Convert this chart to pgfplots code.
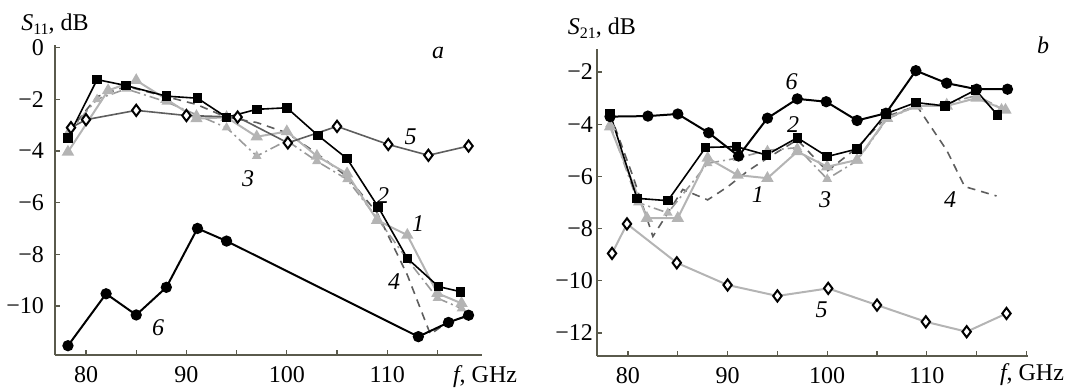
\documentclass[border=0pt]{standalone}
\usepackage{pgfplots}
\pgfplotsset{compat=1.18}
\usepackage{fontspec}
\setmainfont{Liberation Serif}
\definecolor{axc}{HTML}{5A5A4C}
\definecolor{lg}{HTML}{B4B4B4}
\definecolor{mg}{HTML}{9A9A9A}
\definecolor{dg}{HTML}{5E5E5E}
\tikzset{lbl/.style={font=\fontsize{12}{13}\selectfont\itshape},
  ttl/.style={font=\fontsize{12}{13}\selectfont}}
\pgfplotsset{
  base/.style={
    scale only axis, clip=false,
    axis x line*=bottom, axis y line*=left,
    axis line style={axc, line width=1pt, -},
    tick style={axc, line width=0.6pt},
    tick align=inside, major tick length=2.5pt,
    ticklabel style={font=\fontsize{12}{13}\selectfont},
    every axis plot/.append style={line width=0.8pt},
  },
  s1/.style={lg, line width=1pt, mark=triangle*, mark size=2.6pt, mark options={fill=lg, draw=lg, solid}},
  s2/.style={black, mark=square*, mark size=2pt, mark options={solid}},
  s3/.style={mg, dash pattern=on 5pt off 2pt on 1pt off 2pt, mark=triangle*, mark size=2pt, mark options={fill=lg, draw=lg, solid}},
  s4/.style={dg, dash pattern=on 4pt off 3pt},
  s5/.style={dg, mark=diamond*, mark size=2.8pt, mark options={fill=white, draw=black, line width=1pt, solid}},
  s6/.style={black, line width=1pt, mark=*, mark size=2.3pt, mark options={solid}},
}
\begin{document}
\begin{tikzpicture}
\useasboundingbox (0,0) rectangle (534pt,195.5pt);
% ---------- panel a ----------
\begin{axis}[base,
  at={(27.5pt,18pt)}, anchor=south west,
  width=213.5pt, height=155pt,
  xmin=76.91, xmax=119.44, ymin=-11.9, ymax=0.1,
  xtick={80,85,...,115}, xticklabels={80,,90,,100,,110,},
  ytick={-10,-8,-6,-4,-2,0}, yticklabels={−10,−8,−6,−4,−2,0},
  yticklabel style={xshift=-2pt}, xticklabel style={yshift=-2pt},
]
\addplot[s4] coordinates {(78.2,-3.3)(81.1,-1.9)(84,-1.5)(88,-1.9)(91,-2.2)(94,-2.7)(97,-2.9)(100,-3.3)(103,-4.1)(106,-5.0)(109,-6.4)(112,-8.8)(114.3,-11.1)(116.1,-10.6)(118.1,-10.4)};
\addplot[s3] coordinates {(78.2,-3.3)(81.1,-2.0)(84,-1.6)(88,-2.1)(91,-2.6)(94,-3.1)(97,-4.2)(100,-3.6)(103,-4.4)(106,-5.1)(109,-6.6)(112,-8.2)(115,-9.7)(117.4,-10.1)};
\addplot[s1] coordinates {(78.2,-4.04)(82.2,-1.66)(85,-1.27)(88,-2.0)(91,-2.75)(94,-2.7)(97,-3.45)(100,-3.25)(103,-4.2)(106,-4.88)(109,-6.68)(112,-7.26)(115,-9.51)(117.4,-9.9)};
\addplot[s2] coordinates {(78.2,-3.49)(81.1,-1.24)(84,-1.47)(88,-1.88)(91.1,-1.96)(94,-2.7)(97,-2.39)(100,-2.33)(103.1,-3.40)(106,-4.30)(109.1,-6.17)(112,-8.16)(115.1,-9.25)(117.3,-9.45)};
\addplot[s5] coordinates {(78.5,-3.10)(80,-2.79)(85,-2.43)(90,-2.63)(95.1,-2.69)(100.1,-3.69)(105,-3.05)(110.1,-3.75)(114.1,-4.17)(118.1,-3.81)};
\addplot[s6] coordinates {(78.2,-11.54)(82,-9.53)(85,-10.35)(88,-9.28)(91.1,-7.0)(94,-7.49)(113.1,-11.19)(116.1,-10.64)(118.1,-10.36)};
\node[lbl] at (axis cs:115.06,-0.19) {a};
\node[lbl] at (axis cs:112.34,-3.46) {5};
\node[lbl] at (axis cs:96.14,-5.06) {3};
\node[lbl] at (axis cs:109.58,-5.71) {2};
\node[lbl] at (axis cs:113.07,-6.80) {1};
\node[lbl] at (axis cs:110.68,-9.07) {4};
\node[lbl] at (axis cs:87.17,-10.85) {6};
\node[ttl] at (axis cs:119.74,-12.74) {\textit{f}, GHz};
\node[ttl] at (axis cs:76.91,0.89) {\textit{S}\raisebox{-0.35ex}{\fontsize{8}{9}\selectfont 11}, dB};
\end{axis}
% ---------- panel b ----------
\begin{axis}[base,
  at={(298.5pt,17.5pt)}, anchor=south west,
  width=215.5pt, height=153.5pt,
  xmin=76.89, xmax=120.16, ymin=-12.88, ymax=-1.12,
  xtick={80,85,...,120}, xticklabels={80,,90,,100,,110,,},
  ytick={-12,-10,-8,-6,-4,-2}, yticklabels={−12,−10,−8,−6,−4,−2},
  yticklabel style={xshift=1.5pt}, xticklabel style={yshift=-2pt},
]
\addplot[s5, lg, line width=1pt] coordinates {(78.4,-8.95)(79.9,-7.82)(84.9,-9.31)(90,-10.16)(95,-10.58)(100.1,-10.29)(105,-10.93)(109.9,-11.57)(114,-11.95)(118,-11.25)};
\addplot[s4] coordinates {(78.2,-3.6)(80.5,-6.0)(82.5,-8.3)(85.5,-6.5)(88,-6.9)(90,-6.4)(92,-5.8)(94,-5.3)(97,-4.6)(100,-5.8)(103,-4.9)(106,-3.7)(109,-3.3)(112,-5.0)(113.8,-6.39)(117,-6.75)};
\addplot[s3] coordinates {(78.2,-4.0)(81,-7.0)(84,-7.4)(88,-5.5)(91,-5.3)(94,-5.0)(97,-4.9)(100,-6.1)(103,-5.4)(106,-3.8)(109,-3.3)(112,-3.2)(115,-2.9)(117.5,-3.4)};
\addplot[s1] coordinates {(78.2,-4.1)(81.9,-7.6)(85,-7.6)(88,-5.3)(91,-5.95)(94,-6.07)(97,-5.05)(100,-5.63)(103,-5.37)(106,-3.77)(109,-3.3)(112,-3.3)(115,-3.0)(117.9,-3.46)};
\addplot[s2] coordinates {(78.2,-3.6)(80.9,-6.84)(84,-6.93)(87.8,-4.89)(90.9,-4.86)(93.9,-5.18)(97,-4.52)(100,-5.24)(103,-4.95)(105.9,-3.6)(108.9,-3.17)(111.8,-3.3)(114.9,-2.69)(117.1,-3.65)};
\addplot[s6] coordinates {(78.2,-3.71)(82,-3.69)(85,-3.61)(88.1,-4.33)(91.1,-5.22)(94,-3.77)(97,-3.03)(99.9,-3.14)(103,-3.86)(105.9,-3.58)(108.9,-1.95)(112,-2.43)(115,-2.66)(118.1,-2.66)};
\node[lbl] at (axis cs:121.67,-0.97) {b};
\node[lbl] at (axis cs:96.44,-2.37) {6};
\node[lbl] at (axis cs:96.57,-4.03) {2};
\node[lbl] at (axis cs:93.05,-6.71) {1};
\node[lbl] at (axis cs:99.78,-6.90) {3};
\node[lbl] at (axis cs:112.33,-6.90) {4};
\node[lbl] at (axis cs:99.45,-11.12) {5};
\node[ttl] at (axis cs:120.56,-13.61) {\textit{f}, GHz};
\node[ttl] at (axis cs:77.39,-0.31) {\textit{S}\raisebox{-0.35ex}{\fontsize{8}{9}\selectfont 21}, dB};
\end{axis}
\end{tikzpicture}
\end{document}
